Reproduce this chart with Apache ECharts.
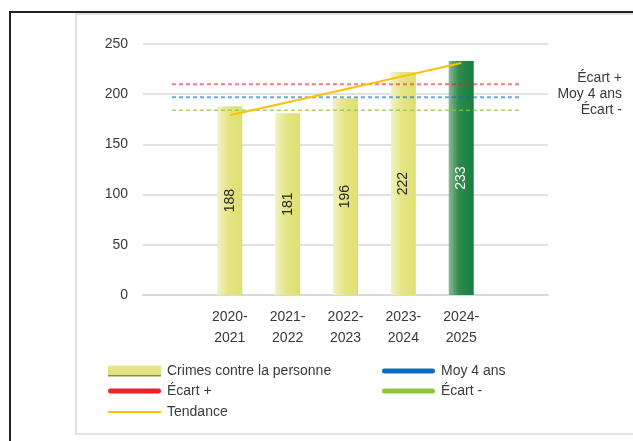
<!DOCTYPE html>
<html>
<head>
<meta charset="utf-8">
<script src="https://cdn.jsdelivr.net/npm/echarts@6/dist/echarts.min.js"></script>
<style>html,body{margin:0;padding:0;background:#fff;}#c{width:633px;height:441px;}</style>
</head>
<body>
<div id="c"></div>
<script>
// Categories (first and last are empty slots of the plot area)
var categories = ['', '2020-\n2021', '2021-\n2022', '2022-\n2023', '2023-\n2024', '2024-\n2025', ''];
var crimes = [null, 188, 181, 196, 222, 233, null];
var moy4ans = [197, 197, 197, 197, 197, 197, 197];
var ecartPlus = [210, 210, 210, 210, 210, 210, 210];
var ecartMoins = [184, 184, 184, 184, 184, 184, 184];
var tendance = [null, 179, 192, 205, 218, 231, null];
var yTicks = {min: 0, max: 250, interval: 50};

var FONT = 'Liberation Sans';
var TXT = '#3a3a3a';

function hGrad(stops) {
  return new echarts.graphic.LinearGradient(0, 0, 1, 0, stops.map(function (s) { return {offset: s[0], color: s[1]}; }));
}
var yellowGrad = hGrad([[0, '#f2f2c4'], [0.45, '#e4e584'], [1, '#dedf72']]);
var greenGrad = hGrad([[0, '#8db896'], [0.4, '#2f8b4e'], [1, '#177f3f']]);

var barData = crimes.map(function (v, i) {
  if (i === 5) {
    return {value: v, itemStyle: {color: greenGrad}, label: {color: '#ffffff'}};
  }
  return {value: v};
});

var chart = echarts.init(document.getElementById('c'), null, {renderer: 'canvas'});

function lineLegend(name, color, left, top, h, icon) {
  return {
    left: left, top: top, orient: 'vertical', itemWidth: 53, itemHeight: h, itemGap: 0,
    selectedMode: false,
    textStyle: {fontFamily: FONT, fontSize: 14, color: TXT, padding: [0, 0, 0, 1]},
    data: [{name: name, icon: icon, itemStyle: {color: color, opacity: 1, borderWidth: 0}}]
  };
}
var pill = 'path://M2.5,0 L50.5,0 A2.5,2.5 0 0 1 50.5,5 L2.5,5 A2.5,2.5 0 0 1 2.5,0 Z';
var legendBarGrad = new echarts.graphic.LinearGradient(0, 0, 0, 1, [
  {offset: 0, color: '#e6e78c'}, {offset: 0.84, color: '#dfe07a'},
  {offset: 0.85, color: '#8f8f3a'}, {offset: 1, color: '#8f8f3a'}
]);

chart.setOption({
  animation: false,
  backgroundColor: '#ffffff',
  textStyle: {fontFamily: FONT},
  grid: {left: 143, right: 85, top: 44, bottom: 146, containLabel: false},
  graphic: [
    {type: 'rect', shape: {x: 10, y: 12, width: 700, height: 520}, style: {fill: 'none', stroke: '#222222', lineWidth: 2}, silent: true},
    {type: 'rect', shape: {x: 76, y: 14, width: 700, height: 420}, style: {fill: 'none', stroke: '#d9d9d9', lineWidth: 1.5}, silent: true},
    {type: 'text', x: 622, y: 78, style: {text: 'Écart +', align: 'right', verticalAlign: 'middle', font: '14px "Liberation Sans"', fill: TXT}},
    {type: 'text', x: 622, y: 94, style: {text: 'Moy 4 ans', align: 'right', verticalAlign: 'middle', font: '14px "Liberation Sans"', fill: TXT}},
    {type: 'text', x: 622, y: 110, style: {text: 'Écart -', align: 'right', verticalAlign: 'middle', font: '14px "Liberation Sans"', fill: TXT}}
  ],
  legend: [
    {
      left: 103, top: 359, itemWidth: 53, itemHeight: 11, selectedMode: false,
      textStyle: {fontFamily: FONT, fontSize: 14, color: TXT, padding: [0, 0, 0, 1]},
      data: [{name: 'Crimes contre la personne', icon: 'rect', itemStyle: {color: legendBarGrad, borderWidth: 0}}]
    },
    lineLegend('Moy 4 ans', '#0b6cbf', 377, 359, 5, pill),
    lineLegend('Écart +', '#ee2028', 103, 379, 5, pill),
    lineLegend('Écart -', '#8dc63f', 377, 379, 5, pill),
    lineLegend('Tendance', '#ffc000', 103, 400, 2, 'rect')
  ],
  xAxis: {
    type: 'category',
    data: categories,
    axisLine: {show: true, lineStyle: {color: '#d9d9d9', width: 2}},
    axisTick: {show: false},
    axisLabel: {color: TXT, fontFamily: FONT, fontSize: 14, lineHeight: 21, margin: 12, interval: 0},
    splitLine: {show: false}
  },
  yAxis: {
    type: 'value',
    min: yTicks.min, max: yTicks.max, interval: yTicks.interval,
    axisLine: {show: false},
    axisTick: {show: false},
    axisLabel: {color: TXT, fontFamily: FONT, fontSize: 14, margin: 15},
    splitLine: {show: true, lineStyle: {color: '#d9d9d9', width: 1.5}}
  },
  series: [
    {
      name: 'Crimes contre la personne', type: 'bar', data: barData, barWidth: 25,
      itemStyle: {color: yellowGrad},
      label: {show: true, position: 'inside', rotate: 90, color: '#262626', fontFamily: FONT, fontSize: 14},
      z: 2
    },
    {
      name: 'Écart +', type: 'line', data: ecartPlus, symbol: 'none', z: 3,
      itemStyle: {color: '#ee2028'},
      lineStyle: {color: '#ee2028', width: 2, type: [4, 3], opacity: 0.6}
    },
    {
      name: 'Moy 4 ans', type: 'line', data: moy4ans, symbol: 'none', z: 3,
      itemStyle: {color: '#0b6cbf'},
      lineStyle: {color: '#0b6cbf', width: 2, type: [4, 3], opacity: 0.6}
    },
    {
      name: 'Écart -', type: 'line', data: ecartMoins, symbol: 'none', z: 3,
      itemStyle: {color: '#8dc63f'},
      lineStyle: {color: '#8dc63f', width: 1.5, type: [4, 3], opacity: 0.8}
    },
    {
      name: 'Tendance', type: 'line', data: tendance, symbol: 'none', z: 4,
      itemStyle: {color: '#ffc000'},
      lineStyle: {color: '#ffc000', width: 2}
    }
  ]
});
</script>
</body>
</html>
